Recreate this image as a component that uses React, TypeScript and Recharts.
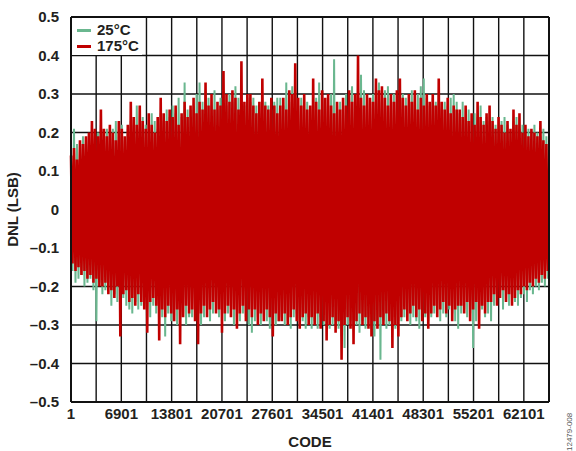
import React from "react";
import {
  LineChart,
  Line,
  XAxis,
  YAxis,
  CartesianGrid,
  ReferenceLine,
} from "recharts";

// DNL envelope per code bin (about 410 codes per bin)
const hi25 = [
  0.15, 0.21, 0.17, 0.15, 0.19, 0.18, 0.17, 0.22, 0.19, 0.2,
  0.22, 0.2, 0.21, 0.19, 0.21, 0.23, 0.2, 0.22, 0.18, 0.21,
  0.23, 0.22, 0.27, 0.21, 0.24, 0.22, 0.2, 0.25, 0.23, 0.21,
  0.25, 0.23, 0.26, 0.24, 0.27, 0.25, 0.29, 0.24, 0.33, 0.26,
  0.26, 0.27, 0.3, 0.33, 0.28, 0.31, 0.29, 0.27, 0.31, 0.26,
  0.29, 0.31, 0.27, 0.3, 0.28, 0.32, 0.29, 0.3, 0.27, 0.29,
  0.28, 0.29, 0.27, 0.25, 0.3, 0.28, 0.27, 0.26, 0.28, 0.29,
  0.29, 0.27, 0.33, 0.28, 0.32, 0.3, 0.27, 0.29, 0.26, 0.28,
  0.26, 0.3, 0.29, 0.33, 0.28, 0.27, 0.29, 0.3, 0.39, 0.27,
  0.28, 0.26, 0.3, 0.29, 0.32, 0.28, 0.3, 0.35, 0.31, 0.27,
  0.27, 0.3, 0.29, 0.33, 0.28, 0.31, 0.32, 0.29, 0.3, 0.28,
  0.28, 0.3, 0.29, 0.27, 0.31, 0.28, 0.3, 0.32, 0.34, 0.29,
  0.27, 0.29, 0.28, 0.3, 0.26, 0.28, 0.27, 0.29, 0.3, 0.28,
  0.25, 0.28, 0.24, 0.26, 0.23, 0.25, 0.24, 0.27, 0.23, 0.24,
  0.23, 0.24, 0.22, 0.21, 0.23, 0.24, 0.22, 0.2, 0.23, 0.24,
  0.21, 0.22, 0.19, 0.21, 0.2, 0.22, 0.2, 0.19, 0.21, 0.19,
];
const lo25 = [
  -0.16, -0.19, -0.18, -0.17, -0.2, -0.19, -0.18, -0.21, -0.29, -0.19,
  -0.22, -0.21, -0.2, -0.25, -0.22, -0.24, -0.21, -0.23, -0.25, -0.26,
  -0.27, -0.24, -0.26, -0.25, -0.23, -0.26, -0.28, -0.25, -0.27, -0.26,
  -0.28, -0.33, -0.27, -0.29, -0.26, -0.3, -0.28, -0.27, -0.3, -0.28,
  -0.28, -0.27, -0.29, -0.3, -0.28, -0.26, -0.29, -0.27, -0.25, -0.28,
  -0.28, -0.29, -0.27, -0.26, -0.3, -0.28, -0.29, -0.27, -0.28, -0.3,
  -0.32, -0.29, -0.28, -0.3, -0.27, -0.29, -0.31, -0.28, -0.3, -0.29,
  -0.28, -0.3, -0.29, -0.31, -0.28, -0.27, -0.3, -0.29, -0.31, -0.28,
  -0.31, -0.29, -0.31, -0.28, -0.3, -0.29, -0.31, -0.3, -0.29, -0.31,
  -0.33, -0.36, -0.3, -0.29, -0.31, -0.3, -0.32, -0.29, -0.31, -0.28,
  -0.31, -0.33, -0.3, -0.39, -0.29, -0.31, -0.3, -0.28, -0.31, -0.29,
  -0.29, -0.28, -0.27, -0.3, -0.28, -0.29, -0.31, -0.27, -0.28, -0.29,
  -0.28, -0.27, -0.26, -0.29, -0.27, -0.28, -0.26, -0.27, -0.29, -0.31,
  -0.27, -0.26, -0.28, -0.27, -0.36, -0.29, -0.27, -0.26, -0.28, -0.27,
  -0.29, -0.25, -0.24, -0.23, -0.26, -0.24, -0.25, -0.23, -0.24, -0.25,
  -0.23, -0.22, -0.24, -0.21, -0.22, -0.2, -0.21, -0.19, -0.2, -0.18,
];
const hi175 = [
  0.14, 0.16, 0.13, 0.18, 0.17, 0.19, 0.2, 0.23, 0.21, 0.19,
  0.26, 0.21, 0.19, 0.22, 0.2, 0.18, 0.23, 0.21, 0.19, 0.22,
  0.28, 0.24, 0.22, 0.27, 0.23, 0.21, 0.25, 0.22, 0.2, 0.24,
  0.29, 0.25, 0.23, 0.26, 0.24, 0.27, 0.22, 0.25, 0.28, 0.24,
  0.27, 0.29, 0.25, 0.28, 0.26, 0.33, 0.27, 0.3, 0.26, 0.28,
  0.27, 0.36, 0.3, 0.28, 0.31, 0.29, 0.26, 0.385, 0.28, 0.3,
  0.3, 0.27, 0.25, 0.28, 0.34, 0.27, 0.26, 0.29, 0.27, 0.25,
  0.27, 0.29, 0.26, 0.31, 0.3, 0.38, 0.29, 0.27, 0.3, 0.26,
  0.27, 0.34, 0.28, 0.26, 0.31, 0.29, 0.3, 0.27, 0.25, 0.28,
  0.26, 0.29, 0.27, 0.31, 0.28, 0.3, 0.4, 0.29, 0.27, 0.3,
  0.29, 0.28, 0.34, 0.31, 0.32, 0.29, 0.27, 0.3, 0.28, 0.31,
  0.34, 0.29, 0.27, 0.3, 0.28, 0.31, 0.26, 0.29, 0.27, 0.3,
  0.28, 0.3, 0.27, 0.34, 0.28, 0.26, 0.29, 0.25, 0.27, 0.26,
  0.26, 0.24, 0.27, 0.23, 0.25, 0.22, 0.28, 0.24, 0.22, 0.25,
  0.27, 0.23, 0.21, 0.24, 0.22, 0.2, 0.23, 0.21, 0.26, 0.22,
  0.25, 0.2, 0.22, 0.19, 0.21, 0.2, 0.19, 0.23, 0.18, 0.17,
];
const lo175 = [
  -0.14, -0.16, -0.15, -0.17, -0.16, -0.18, -0.17, -0.19, -0.18, -0.2,
  -0.2, -0.19, -0.22, -0.21, -0.23, -0.2, -0.33, -0.22, -0.21, -0.24,
  -0.23, -0.25, -0.22, -0.24, -0.26, -0.32, -0.24, -0.23, -0.25, -0.34,
  -0.26, -0.28, -0.25, -0.27, -0.29, -0.26, -0.35, -0.28, -0.25, -0.27,
  -0.26, -0.29, -0.35, -0.27, -0.25, -0.28, -0.26, -0.24, -0.27, -0.26,
  -0.32, -0.27, -0.25, -0.28, -0.26, -0.31, -0.27, -0.25, -0.29, -0.26,
  -0.28, -0.26, -0.3, -0.27, -0.29, -0.26, -0.28, -0.33, -0.27, -0.29,
  -0.29, -0.27, -0.3, -0.28, -0.26, -0.29, -0.31, -0.28, -0.27, -0.3,
  -0.28, -0.3, -0.27, -0.31, -0.29, -0.34, -0.3, -0.28, -0.32, -0.29,
  -0.39, -0.3, -0.28, -0.31, -0.35, -0.29, -0.27, -0.3, -0.28, -0.31,
  -0.33, -0.29, -0.31, -0.28, -0.3, -0.27, -0.29, -0.36, -0.3, -0.33,
  -0.28, -0.26, -0.29, -0.27, -0.25, -0.28, -0.26, -0.29, -0.27, -0.31,
  -0.27, -0.25, -0.28, -0.26, -0.24, -0.27, -0.25, -0.29, -0.26, -0.25,
  -0.25, -0.27, -0.24, -0.29, -0.26, -0.24, -0.31, -0.25, -0.27, -0.24,
  -0.24, -0.22, -0.25, -0.23, -0.21, -0.24, -0.22, -0.25, -0.23, -0.21,
  -0.22, -0.2, -0.21, -0.19, -0.2, -0.18, -0.19, -0.17, -0.18, -0.16,
];

const CODES_PER_BIN = 410;
const xTicks = [
  1, 3451, 6901, 10351, 13801, 17251, 20701, 24151, 27601, 31051, 34501,
  37951, 41401, 44851, 48301, 51751, 55201, 58651, 62101, 65551,
];
const xLabelled = [1, 6901, 13801, 20701, 27601, 34501, 41401, 48301, 55201, 62101];
const yTicks = [-0.5, -0.4, -0.3, -0.2, -0.1, 0, 0.1, 0.2, 0.3, 0.4, 0.5];
const seriesNames = ["25°C", "175°C"];

// zigzag: high then low inside each bin, so the line fills the band
const data = hi175.flatMap((_, i) => [
  { code: 1 + i * CODES_PER_BIN, t25: hi25[i], t175: hi175[i] },
  { code: 1 + i * CODES_PER_BIN + CODES_PER_BIN / 2, t25: lo25[i], t175: lo175[i] },
]);

const GREEN = "#6ab78f";
const RED = "#c00000";
const FONT = "'Liberation Sans', Arial, sans-serif";
const INK = "#231f20";

const fmtY = (v: number) => {
  if (Math.abs(v) < 1e-9) return "0";
  const s = Math.abs(v).toFixed(1);
  return v < 0 ? "\u2013" + s : s;
};

function LegendBox() {
  const colors = [GREEN, RED];
  return (
    <div
      style={{
        position: "absolute",
        left: 72,
        top: 18,
        width: 70,
        height: 37,
        boxSizing: "border-box",
        background: "#fff",
        padding: "4px 0 0 5px",
        fontFamily: FONT,
        fontWeight: 700,
        fontSize: 15,
        color: INK,
        lineHeight: "16px",
      }}
    >
      {seriesNames.map((name, i) => (
        <div key={name} style={{ display: "flex", alignItems: "center" }}>
          <span
            style={{
              display: "inline-block",
              width: 14,
              height: 3,
              background: colors[i],
              marginRight: 6,
            }}
          />
          {name}
        </div>
      ))}
    </div>
  );
}

export default function App() {
  return (
    <div
      style={{
        position: "fixed",
        left: 0,
        top: 0,
        width: 576,
        height: 451,
        background: "#fff",
      }}
    >
      <LineChart
        width={576}
        height={451}
        data={data}
        margin={{ top: 17, right: 27, bottom: 0, left: 0 }}
      >
        <CartesianGrid stroke="#111" strokeWidth={1.4} />
        <XAxis
          dataKey="code"
          type="number"
          domain={[1, 65551]}
          ticks={xTicks}
          interval={0}
          height={49}
          tickLine={false}
          tickSize={0}
          tickMargin={6}
          axisLine={{ stroke: "#111", strokeWidth: 2 }}
          tick={{ fontSize: 15, fontWeight: 700, fill: INK, fontFamily: FONT }}
          tickFormatter={(v: number) => (xLabelled.includes(v) ? String(v) : "")}
          label={{
            value: "CODE",
            position: "insideBottom",
            offset: 4,
            style: { fontSize: 15, fontWeight: 700, fill: INK, fontFamily: FONT },
          }}
        />
        <YAxis
          type="number"
          domain={[-0.5, 0.5]}
          ticks={yTicks}
          interval={0}
          width={71}
          tickLine={false}
          tickSize={0}
          tickMargin={12}
          axisLine={{ stroke: "#111", strokeWidth: 2 }}
          tick={{ fontSize: 15, fontWeight: 700, fill: INK, fontFamily: FONT }}
          tickFormatter={fmtY}
          label={{
            value: "DNL (LSB)",
            angle: -90,
            position: "insideLeft",
            offset: 13,
            style: {
              fontSize: 15,
              fontWeight: 700,
              fill: INK,
              fontFamily: FONT,
              textAnchor: "middle",
            },
          }}
        />
        <Line
          dataKey="t25"
          name={seriesNames[0]}
          stroke={GREEN}
          strokeWidth={2}
          dot={false}
          isAnimationActive={false}
          type="linear"
        />
        <Line
          dataKey="t175"
          name={seriesNames[1]}
          stroke={RED}
          strokeWidth={2.6}
          dot={false}
          isAnimationActive={false}
          type="linear"
        />
        <ReferenceLine y={0.5} stroke="#111" strokeWidth={2} />
        <ReferenceLine x={65551} stroke="#111" strokeWidth={2} />
      </LineChart>
      <LegendBox />
      <svg
        width={20}
        height={60}
        style={{ position: "absolute", left: 560, top: 391 }}
      >
        <text
          transform="translate(12,60) rotate(-90)"
          fontSize={8}
          fontFamily={FONT}
          fill="#555"
        >
          12479-008
        </text>
      </svg>
    </div>
  );
}
